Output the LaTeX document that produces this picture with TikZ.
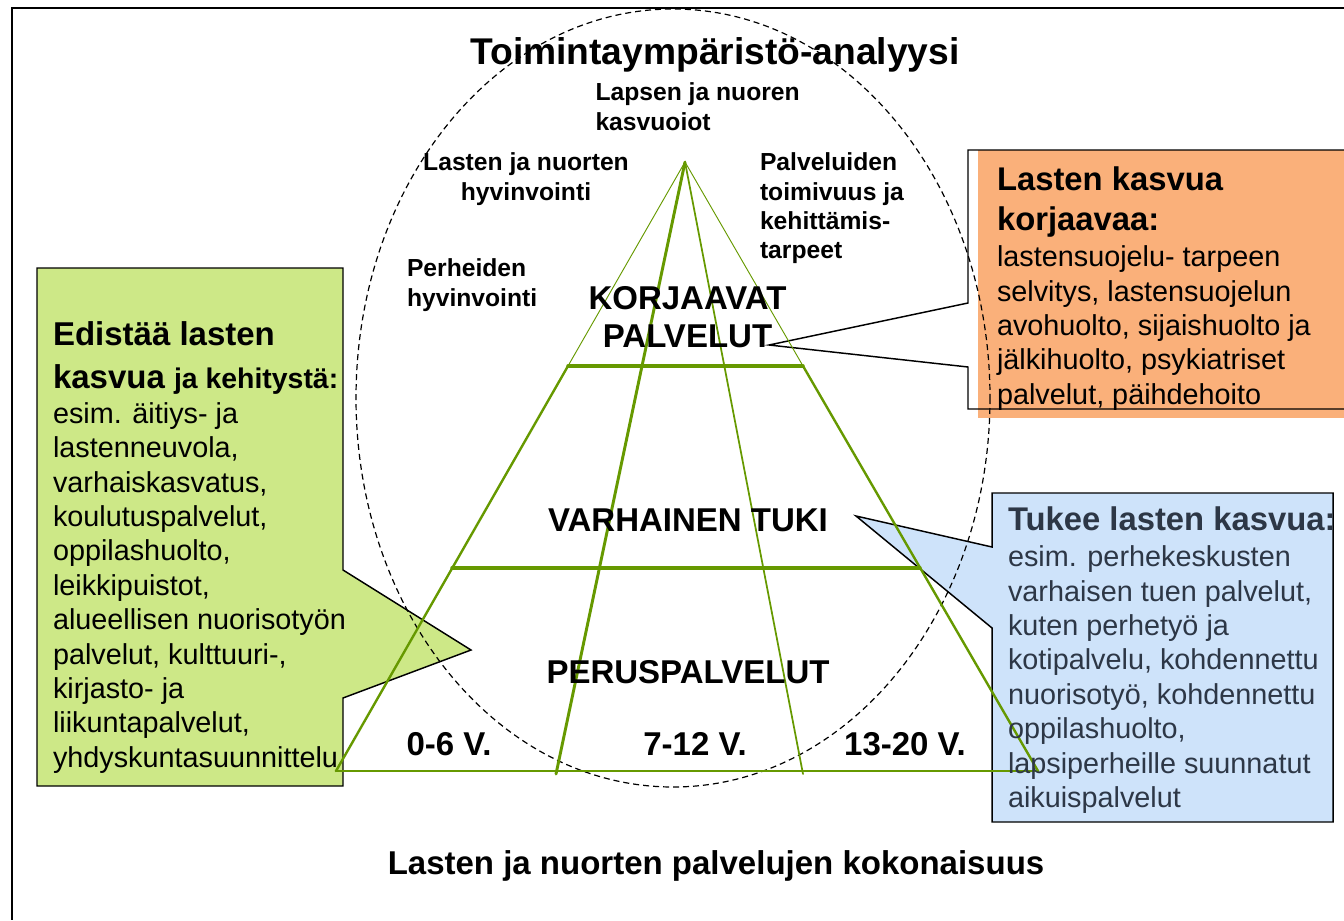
\documentclass[tikz,border=0pt]{standalone}
\usepackage{fontspec}
\setmainfont{Liberation Sans}
\definecolor{pyrgreen}{RGB}{102,153,0}
\definecolor{orangefill}{RGB}{250,176,122}
\definecolor{greenfill}{RGB}{205,232,135}
\definecolor{bluefill}{RGB}{206,227,250}
\definecolor{bluetext}{RGB}{45,55,70}
\newcommand{\fsz}[2]{\fontsize{#1}{#2}\selectfont}
\begin{document}
\begin{tikzpicture}[x=0.75pt,y=-0.75pt,
  every node/.style={inner sep=0pt, outer sep=0pt},
  titlefont/.style={font=\bfseries\fsz{27.9pt}{33pt}},
  txtbig/.style={font=\bfseries\fsz{24.75pt}{28.5pt}},
  txtsmall/.style={font=\bfseries\fsz{18.5pt}{22pt}},
  boxhead/.style={font=\bfseries\fsz{24.6pt}{30pt}, align=left},
  boxbody/.style={font=\fsz{21.6pt}{25.8pt}, align=left},
  callout/.style={draw=black, line width=1.1pt, line join=miter},
  pyr/.style={draw=pyrgreen, line cap=round}
]
\useasboundingbox (0,0) rectangle (1344,920);

% outer frame (right and bottom sides fall outside the picture)
\coordinate (fTL) at (12,8);
\coordinate (fTR) at (1344,8);
\coordinate (fBL) at (12,920);
\draw[line width=2.2pt] (fTR) -- (fTL) -- (fBL);

% callouts
\coordinate (grTip) at (471,650);
\coordinate (orTip) at (769,345);
\coordinate (blTip) at (856,516);

\fill[orangefill] (978,150) rectangle (1344,418);
\draw[callout] (1344,150) -- (968,150) -- (968,303) -- (orTip) -- (968,367) -- (968,409) -- (1344,409);

\draw[callout, fill=greenfill] (37,268) -- (343,268) -- (343,570) -- (grTip) -- (343,698) -- (343,786) -- (37,786) -- cycle;

\draw[callout, fill=bluefill] (992,493) -- (1333,493) -- (1333,822) -- (992,822) -- (992,628) -- (blTip) -- (992,547) -- cycle;

% dashed ellipse
\draw[line width=0.9pt, dash pattern=on 4.5pt off 3pt] (673,398) ellipse [x radius=317, y radius=389];

% pyramid
\coordinate (apex) at (685,162);
\coordinate (L1) at (568,366);
\coordinate (L2) at (452,568);
\coordinate (L3) at (336,771);
\coordinate (R1) at (803,366);
\coordinate (R2) at (920,568);
\coordinate (R3) at (1038,771);
\coordinate (IL) at (556,774);
\coordinate (IR) at (803,774);

\draw[pyr, line width=0.7pt] (apex) -- (L1);
\draw[pyr, line width=0.7pt] (apex) -- (R1);
\draw[pyr, line width=1.8pt] (L1) -- (L3);
\draw[pyr, line width=1.8pt] (R1) -- (R3);
\draw[pyr, line width=2.2pt] (apex) -- (IL);
\draw[pyr, line width=1.3pt] (apex) -- (IR);
\draw[pyr, line width=2.6pt] (L1) -- (R1);
\draw[pyr, line width=2.6pt] (L2) -- (R2);
\draw[pyr, line width=2.2pt] (L3) -- (R3);

% top labels
\node[titlefont, anchor=base] (title) at (715,65) {Toimintaympäristö-analyysi};
\node[txtsmall, align=left, anchor=north west] (kasvu) at (595.5,80.2) {\strut Lapsen ja nuoren\\kasvuoiot};
\node[txtsmall, align=center, anchor=north] (hyvin) at (526,150.2) {\strut Lasten ja nuorten\\hyvinvointi};
\node[txtsmall, align=left, anchor=north west] (palv) at (760,150.2) {\strut Palveluiden\\toimivuus ja\\kehittämis-\\tarpeet};
\node[txtsmall, align=left, anchor=north west] (perh) at (407,256.2) {\strut Perheiden\\hyvinvointi};

% pyramid labels
\node[txtbig, align=center, anchor=north] (korj) at (687.5,282.4) {\strut KORJAAVAT\\PALVELUT};
\node[txtbig, anchor=base] (varh) at (688,531.7) {VARHAINEN TUKI};
\node[txtbig, anchor=base] (perus) at (688,683.3) {PERUSPALVELUT};
\node[txtbig, anchor=base] (age1) at (449,755) {0-6 V.};
\node[txtbig, anchor=base] (age2) at (695,755) {7-12 V.};
\node[txtbig, anchor=base] (age3) at (905,755) {13-20 V.};
\node[txtbig, anchor=base] (bottom) at (716,874) {Lasten ja nuorten palvelujen kokonaisuus};

% orange box text
\node[boxhead, anchor=north west] (orhead) at (997,162) {\strut Lasten kasvua\\korjaavaa:};
\node[boxbody, anchor=north west] (orbody) at (997,242.6) {\strut lastensuojelu- tarpeen\\selvitys, lastensuojelun\\avohuolto, sijaishuolto ja\\jälkihuolto, psykiatriset\\palvelut, päihdehoito};

% green box text
\node[font=\bfseries\fsz{24.75pt}{32.25pt}, align=left, anchor=north west] (grhead) at (53,314.9) {\strut Edistää lasten\\kasvua {\fsz{21.3pt}{32.25pt}ja kehitystä:}};
\node[boxbody, anchor=north west] (grbody) at (53,399.2) {\strut esim. äitiys- ja\\lastenneuvola,\\varhaiskasvatus,\\koulutuspalvelut,\\oppilashuolto,\\leikkipuistot,\\alueellisen nuorisotyön\\palvelut, kulttuuri-,\\kirjasto- ja\\liikuntapalvelut,\\yhdyskuntasuunnittelu};

% blue box text
\node[boxhead, text=bluetext, anchor=base west] (blhead) at (1008,530) {Tukee lasten kasvua:};
\node[boxbody, text=bluetext, anchor=north west] (blbody) at (1008,542.6) {\strut esim. perhekeskusten\\varhaisen tuen palvelut,\\kuten perhetyö ja\\kotipalvelu, kohdennettu\\nuorisotyö, kohdennettu\\oppilashuolto,\\lapsiperheille suunnatut\\aikuispalvelut};
\end{tikzpicture}
\end{document}
